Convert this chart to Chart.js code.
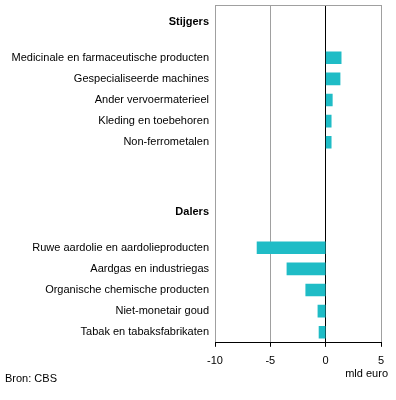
<!DOCTYPE html>
<html>
<head>
<meta charset="utf-8">
<script src="https://cdn.jsdelivr.net/npm/chart.js@4"></script>
<style>
  body { margin: 0; background: #fff; }
  #wrap { width: 396px; height: 400px; }
</style>
</head>
<body>
<div id="wrap"><canvas id="myChart"></canvas></div>
<script>
// header rows are two-line labels so the bold text sits a bit lower, as in the original
const categories = [
  ['', 'Stijgers'], '',
  'Medicinale en farmaceutische producten',
  'Gespecialiseerde machines',
  'Ander vervoermaterieel',
  'Kleding en toebehoren',
  'Non-ferrometalen',
  '', '',
  ['', 'Dalers'], '',
  'Ruwe aardolie en aardolieproducten',
  'Aardgas en industriegas',
  'Organische chemische producten',
  'Niet-monetair goud',
  'Tabak en tabaksfabrikaten'
];
const values = [null, null, 1.4, 1.3, 0.6, 0.5, 0.5, null, null, null, null, -6.2, -3.5, -1.8, -0.7, -0.6];
const xTicks = [-10, -5, 0, 5];

const fontFamily = '"Liberation Sans", Arial, sans-serif';
Chart.defaults.font.family = fontFamily;
Chart.defaults.font.size = 11;
Chart.defaults.color = '#000';

const extras = {
  id: 'extras',
  beforeDatasetsDraw(chart) {
    const a = chart.chartArea, c = chart.ctx;
    c.save();
    c.strokeStyle = '#a0a0a0';
    c.lineWidth = 1;
    c.beginPath();
    c.moveTo(a.left, a.top + 0.5);
    c.lineTo(a.right, a.top + 0.5);
    c.stroke();
    c.restore();
  },
  afterDraw(chart) {
    const a = chart.chartArea, c = chart.ctx;
    c.save();
    c.font = '11px ' + fontFamily;
    c.fillStyle = '#000';
    c.textAlign = 'right';
    c.textBaseline = 'middle';
    c.fillText('mld euro', a.right + 7, 374);
    c.restore();
  }
};

const ctx = document.getElementById('myChart');
const chrt = new Chart(ctx, {
  type: 'bar',
  data: {
    labels: categories,
    datasets: [{
      data: values,
      backgroundColor: '#1fbcc6',
      borderWidth: 0,
      barThickness: 12
    }]
  },
  options: {
    indexAxis: 'y',
    animation: false,
    maintainAspectRatio: false,
    responsive: true,
    layout: { padding: { top: 5, right: 15, left: 5, bottom: 14 } },
    plugins: {
      legend: { display: false },
      tooltip: { enabled: false },
      title: {
        display: true,
        position: 'bottom',
        align: 'start',
        text: 'Bron: CBS',
        font: { size: 11, weight: 'normal' },
        color: '#000',
        padding: 0
      }
    },
    scales: {
      x: {
        min: -10,
        max: 5,
        afterBuildTicks(scale) {
          scale.ticks = xTicks.map(v => ({ value: v }));
        },
        afterFit(scale) {
          scale.height = 30;
          scale.paddingLeft = 0;
          scale.paddingRight = 0;
        },
        border: { display: true, color: '#000' },
        grid: {
          color: (c) => c.tick && c.tick.value === 0 ? '#000' : '#a0a0a0',
          tickColor: '#000',
          tickLength: 4
        },
        ticks: { padding: 8, maxRotation: 0 }
      },
      y: {
        afterFit(scale) {
          scale.width = 210;
          scale.paddingTop = 0;
          scale.paddingBottom = 0;
        },
        border: { display: false },
        grid: { display: false, drawTicks: false },
        ticks: {
          padding: 6,
          autoSkip: false,
          font: (c) => ({
            size: 11,
            weight: Array.isArray(categories[c.index]) ? 'bold' : 'normal'
          })
        }
      }
    }
  },
  plugins: [extras]
});

console.log(chrt)
</script>
</body>
</html>
